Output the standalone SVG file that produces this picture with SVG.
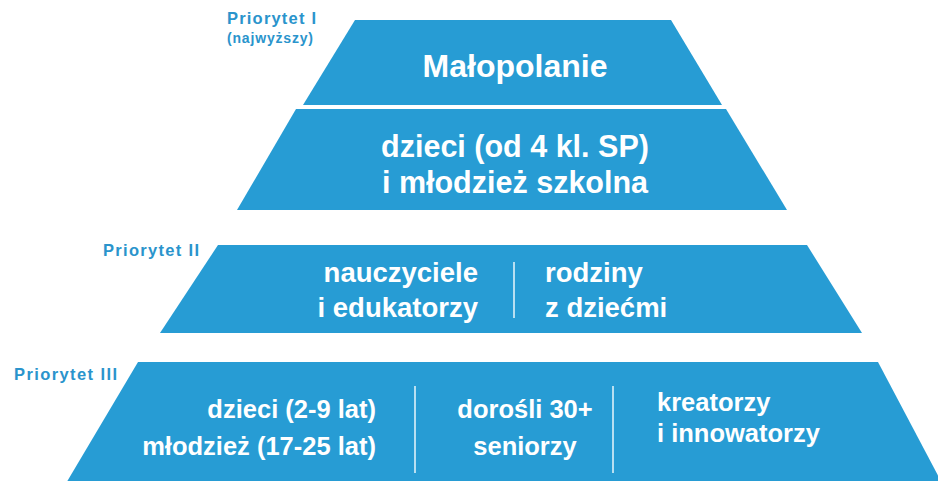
<svg xmlns="http://www.w3.org/2000/svg" width="938" height="481" viewBox="0 0 938 481">
  <style>
    .tier { fill: #279cd4; }
    .t { font-family: "Liberation Sans", Arial, sans-serif; font-weight: bold; fill: #ffffff; }
    .lbl { font-family: "Liberation Sans", Arial, sans-serif; font-weight: bold; fill: #2a94cc; }
    .div { stroke: #ffffff; stroke-width: 1.5; stroke-opacity: 0.9; }
  </style>
  <rect width="938" height="481" fill="#ffffff"/>

  <g id="label-priorytet-1">
    <text class="lbl" x="227" y="24" font-size="16.5" textLength="89" lengthAdjust="spacing">Priorytet I</text>
    <text class="lbl" x="227" y="43" font-size="14" textLength="86" lengthAdjust="spacing">(najwyższy)</text>
  </g>
  <g id="label-priorytet-2">
    <text class="lbl" x="103" y="256" font-size="16.5" textLength="96" lengthAdjust="spacing">Priorytet II</text>
  </g>
  <g id="label-priorytet-3">
    <text class="lbl" x="14" y="380" font-size="16.5" textLength="103" lengthAdjust="spacing">Priorytet III</text>
  </g>

  <g id="tier-malopolanie">
    <polygon class="tier" points="355,20 671,20 722,105 303,105"/>
    <text class="t" x="515" y="77" font-size="32" text-anchor="middle">Małopolanie</text>
  </g>

  <g id="tier-dzieci-mlodziez">
    <polygon class="tier" points="296,109 726,109 787,210 237,210"/>
    <text class="t" x="515" y="157" font-size="30.5" text-anchor="middle">dzieci (od 4 kl. SP)</text>
    <text class="t" x="515" y="193" font-size="30.5" text-anchor="middle">i młodzież szkolna</text>
  </g>

  <g id="tier-priorytet-2">
    <polygon class="tier" points="218,245 807,245 862,333 160,333"/>
    <text class="t" x="478" y="282" font-size="27.5" text-anchor="end">nauczyciele</text>
    <text class="t" x="478" y="317" font-size="27.5" text-anchor="end">i edukatorzy</text>
    <line class="div" x1="514" y1="262" x2="514" y2="318"/>
    <text class="t" x="545" y="282" font-size="27.5">rodziny</text>
    <text class="t" x="545" y="317" font-size="27.5">z dziećmi</text>
  </g>

  <g id="tier-priorytet-3">
    <polygon class="tier" points="138,362 878,362 943,485 65,485"/>
    <text class="t" x="376" y="418" font-size="25.5" text-anchor="end">dzieci (2-9 lat)</text>
    <text class="t" x="376" y="455" font-size="25.5" text-anchor="end">młodzież (17-25 lat)</text>
    <line class="div" x1="415" y1="386" x2="415" y2="473"/>
    <text class="t" x="525" y="418" font-size="25.5" text-anchor="middle">dorośli 30+</text>
    <text class="t" x="525" y="455" font-size="25.5" text-anchor="middle">seniorzy</text>
    <line class="div" x1="613" y1="386" x2="613" y2="473"/>
    <text class="t" x="657" y="411" font-size="25.5">kreatorzy</text>
    <text class="t" x="657" y="442" font-size="25.5">i innowatorzy</text>
  </g>

  <g id="connectors"/>
</svg>
